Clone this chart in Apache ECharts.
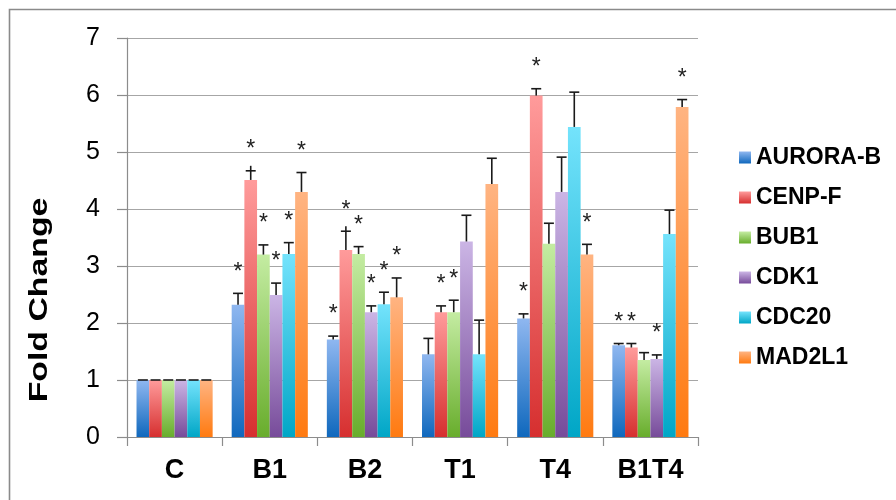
<!DOCTYPE html>
<html>
<head>
<meta charset="utf-8">
<script src="https://cdn.jsdelivr.net/npm/echarts@6/dist/echarts.min.js"></script>
<style>
html,body{margin:0;padding:0;background:#fff;}
#chart{width:896px;height:500px;}
</style>
</head>
<body>
<div id="chart"></div>
<script>
const categories = ['C', 'B1', 'B2', 'T1', 'T4', 'B1T4'];
const genes = ['AURORA-B', 'CENP-F', 'BUB1', 'CDK1', 'CDC20', 'MAD2L1'];
const yTicks = [0, 1, 2, 3, 4, 5, 6, 7];

const auroraB = [1, 2.32, 1.71, 1.45, 2.08, 1.61];
const cenpF   = [1, 4.51, 3.28, 2.19, 5.99, 1.57];
const bub1    = [1, 3.20, 3.21, 2.19, 3.39, 1.35];
const cdk1    = [1, 2.49, 2.19, 3.43, 4.30, 1.37];
const cdc20   = [1, 3.21, 2.33, 1.45, 5.44, 3.56];
const mad2l1  = [1, 4.30, 2.45, 4.44, 3.20, 5.79];

const auroraBErr = [0, 0.20, 0.06, 0.28, 0.08, 0.03];
const cenpFErr   = [0, 0.16, 0.33, 0.11, 0.12, 0.07];
const bub1Err    = [0, 0.17, 0.13, 0.21, 0.36, 0.13];
const cdk1Err    = [0, 0.21, 0.11, 0.46, 0.61, 0.07];
const cdc20Err   = [0, 0.20, 0.21, 0.60, 0.61, 0.42];
const mad2l1Err  = [0, 0.34, 0.34, 0.45, 0.18, 0.13];

// significance markers (1 = "*")
const auroraBStar = [0, 1, 1, 0, 1, 1];
const cenpFStar   = [0, 1, 1, 1, 1, 1];
const bub1Star    = [0, 1, 1, 1, 0, 0];
const cdk1Star    = [0, 1, 1, 0, 0, 1];
const cdc20Star   = [0, 1, 1, 0, 0, 0];
const mad2l1Star  = [0, 1, 1, 0, 1, 1];

// dagger marks ("+") on error bars
const auroraBDag = [0, 0, 0, 0, 0, 0];
const cenpFDag   = [0, 1, 1, 0, 0, 0];
const bub1Dag    = [0, 0, 0, 0, 0, 0];
const cdk1Dag    = [0, 0, 0, 0, 0, 0];
const cdc20Dag   = [0, 0, 0, 0, 0, 0];
const mad2l1Dag  = [0, 0, 0, 0, 0, 0];

const values = [auroraB, cenpF, bub1, cdk1, cdc20, mad2l1];
const errors = [auroraBErr, cenpFErr, bub1Err, cdk1Err, cdc20Err, mad2l1Err];
const stars = [auroraBStar, cenpFStar, bub1Star, cdk1Star, cdc20Star, mad2l1Star];
const daggers = [auroraBDag, cenpFDag, bub1Dag, cdk1Dag, cdc20Dag, mad2l1Dag];

const gradStops = [
  ['#8fb7f0', '#0f68bd'],
  ['#ff9b9b', '#d62f2f'],
  ['#c4eca2', '#68ad2c'],
  ['#cbb5e5', '#774b9a'],
  ['#74e3fc', '#00a6c6'],
  ['#ffb482', '#ff7a10']
];

function grad(i) {
  return new echarts.graphic.LinearGradient(0, 0, 0, 1, [
    { offset: 0, color: gradStops[i][0] },
    { offset: 1, color: gradStops[i][1] }
  ]);
}

const nG = genes.length;
const barRatio = 0.8;

const barSeries = genes.map((g, i) => ({
  name: g,
  type: 'bar',
  data: values[i],
  barGap: '0%',
  barCategoryGap: '20%',
  itemStyle: { color: grad(i) },
  z: 2
}));

const errData = [];
for (let i = 0; i < nG; i++) {
  for (let c = 0; c < categories.length; c++) {
    errData.push([c, i, values[i][c], errors[i][c], stars[i][c], daggers[i][c]]);
  }
}

const errSeries = {
  type: 'custom',
  name: 'err',
  data: errData,
  z: 10,
  encode: { x: 0, y: 2 },
  renderItem: function (params, api) {
    const c = api.value(0), g = api.value(1), v = api.value(2), e = api.value(3);
    const st = api.value(4), dg = api.value(5);
    const band = api.size([1, 0])[0];
    const bw = band * barRatio / nG;
    const cx = api.coord([c, 0])[0];
    const x = cx + (g - (nG - 1) / 2) * bw;
    const yTop = api.coord([c, v])[1];
    const yErr = api.coord([c, v + e])[1];
    const ls = { stroke: '#1a1a1a', lineWidth: 1.6 };
    const children = [
      { type: 'line', shape: { x1: x, y1: yTop, x2: x, y2: yErr }, style: ls },
      { type: 'line', shape: { x1: x - 5, y1: yErr, x2: x + 5, y2: yErr }, style: ls }
    ];
    if (dg) {
      children.push({ type: 'line', shape: { x1: x, y1: yErr, x2: x, y2: yErr - 5 }, style: ls });
    }
    if (st) {
      children.push({
        type: 'text',
        style: {
          text: '*', x: x, y: yErr - 21,
          align: 'center', verticalAlign: 'middle',
          fill: '#222', font: 'normal 23px "Liberation Sans", Arial, sans-serif'
        }
      });
    }
    return { type: 'group', children: children };
  }
};

const chart = echarts.init(document.getElementById('chart'));
chart.setOption({
  animation: false,
  backgroundColor: '#fff',
  textStyle: { fontFamily: '"Liberation Sans", Arial, sans-serif' },
  grid: { left: 127, right: 198, top: 38, bottom: 63 },
  legend: {
    data: genes,
    orient: 'vertical',
    left: 734,
    top: 141,
    itemWidth: 12,
    itemHeight: 12,
    itemGap: 17,
    icon: 'rect',
    textStyle: { fontSize: 23, fontWeight: 'bold', color: '#000', fontFamily: '"Liberation Sans", Arial, sans-serif' }
  },
  xAxis: {
    type: 'category',
    data: categories,
    axisLine: { lineStyle: { color: '#8c8c8c', width: 1.2 } },
    axisTick: { show: true, length: 9, lineStyle: { color: '#8c8c8c', width: 1.2 } },
    axisLabel: { margin: 20, fontSize: 27, fontWeight: 'bold', color: '#000' }
  },
  yAxis: {
    type: 'value',
    min: yTicks[0],
    max: yTicks[yTicks.length - 1],
    interval: 1,
    axisLine: { show: true, lineStyle: { color: '#8c8c8c', width: 1.2 } },
    axisTick: { show: true, length: 10, lineStyle: { color: '#8c8c8c', width: 1.2 } },
    axisLabel: { margin: 27, fontSize: 25, color: '#000' },
    splitLine: { lineStyle: { color: '#a6a6a6', width: 1.2 } }
  },
  graphic: [
    {
      type: 'rect', silent: true, z: 100,
      shape: { x: 9.5, y: 9.5, width: 1000, height: 1000 },
      style: { fill: 'none', stroke: '#8a8a8a', lineWidth: 1.6 }
    },
    {
      type: 'text', x: 40, y: 300, rotation: Math.PI / 2, scaleX: 1.3,
      style: {
        text: 'Fold Change', fill: '#000',
        font: 'bold 26px "Liberation Sans", Arial, sans-serif',
        align: 'center', verticalAlign: 'middle',
        textAlign: 'center', textVerticalAlign: 'middle'
      }
    }
  ],
  series: barSeries.concat([errSeries])
});
</script>
</body>
</html>
